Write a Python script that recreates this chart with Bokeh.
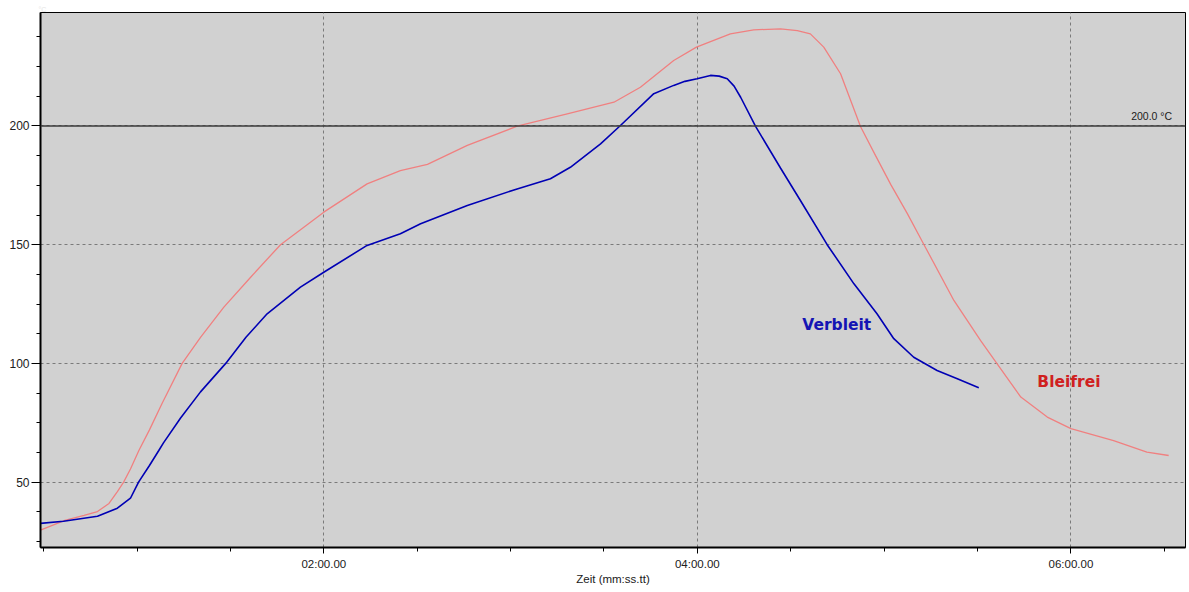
from bokeh.plotting import figure
from bokeh.models import FixedTicker, Span, Label, Range1d
from bokeh.embed import file_html
from bokeh.resources import INLINE

# Time in seconds, temperature in °C
verbleit_t = [29.0, 36.4, 47.3, 53.7, 57.9, 60.5, 64.0, 67.0, 68.5, 74.0, 80.4, 88.5, 95.0, 101.8,
              112.5, 120.0, 133.9, 144.6, 151.1, 166.1, 182.1, 192.8, 199.2, 208.9, 215.3,
              226.0, 232.4, 236.0, 239.9, 244.2, 247.0, 249.6, 251.8, 253.9, 258.7, 266.7,
              273.1, 281.7, 290.3, 297.7, 303.1, 309.5, 317.0, 323.5, 330.4]
verbleit_T = [32.6, 33.5, 35.6, 39.0, 43.2, 50.0, 57.0, 63.3, 66.5, 77.0, 88.0, 100.0, 111.0, 120.9,
              132.1, 138.4, 149.7, 154.6, 158.8, 166.5, 173.5, 177.8, 182.6, 192.5, 200.2,
              213.6, 217.1, 218.8, 219.9, 221.3, 221.0, 219.9, 216.8, 212.1, 199.8, 182.3,
              168.6, 150.0, 133.5, 120.9, 110.4, 102.6, 97.0, 93.5, 89.7]

bleifrei_t = [29.0, 36.8, 43.0, 47.3, 51.0, 53.7, 55.7, 57.9, 60.6, 64.0, 68.0, 74.5, 80.4, 87.9,
              96.5, 106.1, 120.0, 133.9, 144.6, 153.3, 166.1, 182.1, 198.2, 213.2, 221.7,
              232.4, 239.7, 250.6, 258.1, 266.7, 272.1, 276.3, 280.6, 286.0, 292.4, 297.2,
              302.1, 307.5, 312.8, 322.4, 331.0, 336.3, 343.9, 352.4, 360.0, 373.7,
              384.4, 391.4]
bleifrei_T = [29.8, 33.9, 36.0, 37.6, 41.0, 46.0, 50.0, 55.5, 63.3, 72.0, 83.0, 100.0, 111.0, 123.7,
              136.3, 150.0, 163.7, 175.6, 181.2, 183.8, 191.8, 199.9, 205.1, 210.0, 216.3,
              227.6, 233.2, 238.8, 240.5, 240.9, 240.2, 238.8, 233.2, 222.0, 199.8, 187.6,
              175.4, 163.0, 150.0, 126.5, 109.6, 99.8, 85.8, 77.4, 72.5, 67.5,
              62.6, 61.2]

x_major = [120, 240, 360]
x_labels = ["02:00.00", "04:00.00", "06:00.00"]
x_minor = [30, 60, 90, 150, 180, 210, 270, 300, 330, 390]
y_major = [50, 100, 150, 200]
y_minor = [25, 37.5, 62.5, 75, 87.5, 112.5, 125, 137.5, 162.5, 175, 187.5, 212.5, 225, 237.5]
threshold = 200.0
x_title = "Zeit (mm:ss.tt)"
y_unit = "°C"

W, H = 1187, 592
p = figure(width=W, height=H, output_backend="svg", toolbar_location=None,
           x_range=Range1d(29.0, 396.8), y_range=Range1d(22.45, 247.8),
           min_border_left=40, min_border_right=2, min_border_top=12, min_border_bottom=45)

# faint unit text at the top-left, as in the original
p.title.text = y_unit
p.title.text_font = "Liberation Sans"
p.title.text_font_size = "7px"
p.title.text_font_style = "normal"
p.title.text_color = "#e4e4e4"
p.title.standoff = 0
p.title.offset = -2

p.background_fill_color = "#d1d1d1"
p.border_fill_color = "white"
p.outline_line_color = "black"
p.outline_line_width = 1

# axes
p.xaxis.ticker = FixedTicker(ticks=x_major, minor_ticks=x_minor)
p.xaxis.major_label_overrides = {t: l for t, l in zip(x_major, x_labels)}
p.yaxis.ticker = FixedTicker(ticks=y_major, minor_ticks=y_minor)
p.xaxis.axis_label = x_title
for ax in (p.xaxis, p.yaxis):
    ax.axis_line_color = "black"
    ax.axis_line_width = 2
    ax.major_tick_line_color = "black"
    ax.minor_tick_line_color = "black"
    ax.major_label_text_font = "Liberation Sans"
    ax.major_label_text_font_size = "12px"
    ax.major_label_text_color = "#202020"
p.xaxis.major_label_text_font_size = "11.5px"
p.xaxis.major_tick_out = 6
p.xaxis.major_tick_in = 0
p.xaxis.minor_tick_out = 4
p.xaxis.minor_tick_in = 0
p.xaxis.major_label_standoff = 4
p.xaxis.axis_label_standoff = 0
p.xaxis.axis_label_text_font = "Liberation Sans"
p.xaxis.axis_label_text_font_size = "11.5px"
p.xaxis.axis_label_text_font_style = "normal"
p.xaxis.axis_label_text_color = "#202020"
p.yaxis.major_tick_out = 9
p.yaxis.major_tick_in = 0
p.yaxis.minor_tick_out = 4
p.yaxis.minor_tick_in = 0
p.yaxis.major_label_standoff = 2

p.xgrid.grid_line_color = "#7a7a7a"
p.xgrid.grid_line_dash = "3 3"
p.xgrid.grid_line_width = 1
p.ygrid.grid_line_color = "#7a7a7a"
p.ygrid.grid_line_dash = "3 3"
p.ygrid.grid_line_width = 1

# threshold line
p.add_layout(Span(location=threshold, dimension="width", line_color="#3a3a3a", line_width=1.6))
p.add_layout(Label(x=392.5, y=threshold + 1.5, text=f"{threshold:.1f} °C", text_align="right",
                   text_baseline="bottom", text_font="Liberation Sans",
                   text_font_size="10.5px", text_color="#202020"))

# curves
p.line(bleifrei_t, bleifrei_T, line_color="#f08080", line_width=1.3)
p.line(verbleit_t, verbleit_T, line_color="#0000b4", line_width=1.6)

p.add_layout(Label(x=273.7, y=116.0, text="Verbleit", text_baseline="middle",
                   text_font="DejaVu Sans", text_font_style="bold",
                   text_font_size="15.5px", text_color="#1414b4"))
p.add_layout(Label(x=349.2, y=92.0, text="Bleifrei", text_baseline="middle",
                   text_font="DejaVu Sans", text_font_style="bold",
                   text_font_size="15.5px", text_color="#d02020"))

open("out.html", "w").write(file_html(p, INLINE))
